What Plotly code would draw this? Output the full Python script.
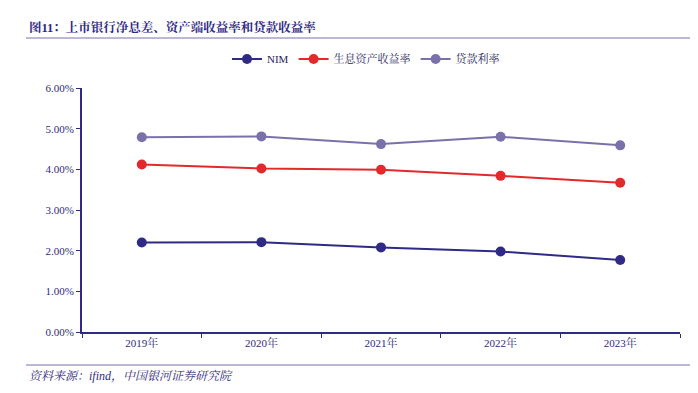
import plotly.graph_objects as go

years = ["2019年", "2020年", "2021年", "2022年", "2023年"]
nim = [2.20, 2.21, 2.08, 1.98, 1.77]
asset_yield = [4.12, 4.02, 3.99, 3.84, 3.67]
loan_rate = [4.79, 4.81, 4.62, 4.80, 4.59]
y_ticks = [0, 1, 2, 3, 4, 5, 6]
y_tick_labels = ["0.00%", "1.00%", "2.00%", "3.00%", "4.00%", "5.00%", "6.00%"]

NAVY = "#2f2a85"
RED = "#e2292c"
LAV = "#7a71ab"
TXT = "#2f2a7a"
SERIF = "Liberation Serif, Noto Serif CJK SC, Noto Sans CJK SC, serif"

fig = go.Figure()
for name, vals, col in [("NIM", nim, NAVY), ("生息资产收益率", asset_yield, RED), ("贷款利率", loan_rate, LAV)]:
    fig.add_trace(go.Scatter(
        x=years, y=vals, name=name, mode="lines+markers",
        line=dict(color=col, width=2),
        marker=dict(color=col, size=10),
    ))

OFF = 8  # page body margin
W, H = 698 - OFF, 393 - OFF
L, R, T, B = 82 - OFF, 680 - OFF, 88 - OFF, 332 - OFF
pw, ph = R - L, B - T

def px(x):
    return (x - OFF - L) / pw

def py(y):
    return (B - (y - OFF)) / ph

fig.update_layout(
    width=W, height=H,
    margin=dict(l=L, r=W - R, t=T, b=H - B),
    paper_bgcolor="white", plot_bgcolor="white",
    font=dict(family=SERIF, color=TXT, size=11),
    showlegend=True,
    legend=dict(orientation="h", x=px(366), xanchor="center", y=py(59), yanchor="middle",
                font=dict(size=11, color="#26235e", family=SERIF), itemwidth=30,
                bgcolor="rgba(0,0,0,0)"),
    xaxis=dict(type="category", range=[-0.5, len(years) - 0.5], showline=True, linecolor=NAVY, linewidth=2,
               ticks="outside", tickson="boundaries", ticklen=4, tickcolor=NAVY, tickwidth=1,
               showgrid=False, tickfont=dict(size=11, color=TXT), zeroline=False),
    yaxis=dict(range=[0, 6], tickvals=y_ticks, ticktext=y_tick_labels,
               showline=True, linecolor=NAVY, linewidth=2, ticks="outside", ticklen=4,
               tickcolor=NAVY, showgrid=False, zeroline=False,
               tickfont=dict(size=11, color=TXT)),
    shapes=[
        dict(type="line", xref="paper", yref="paper", x0=px(26), x1=px(698), y0=py(38), y1=py(38),
             line=dict(color=LAV, width=1)),
        dict(type="line", xref="paper", yref="paper", x0=px(26), x1=px(698), y0=py(365), y1=py(365),
             line=dict(color=LAV, width=1)),
    ],
    annotations=[
        dict(text="<b>图11：上市银行净息差、资产端收益率和贷款收益率</b>", xref="paper", yref="paper",
             x=px(27), y=py(28), xanchor="left", yanchor="middle", showarrow=False,
             font=dict(size=12.5, color=NAVY, family=SERIF)),
        dict(text="<i>资料来源：ifind，中国银河证券研究院</i>", xref="paper", yref="paper",
             x=px(27), y=py(376), xanchor="left", yanchor="middle", showarrow=False,
             font=dict(size=12, color=TXT, family=SERIF)),
    ],
)

fig.write_html("out.html")
